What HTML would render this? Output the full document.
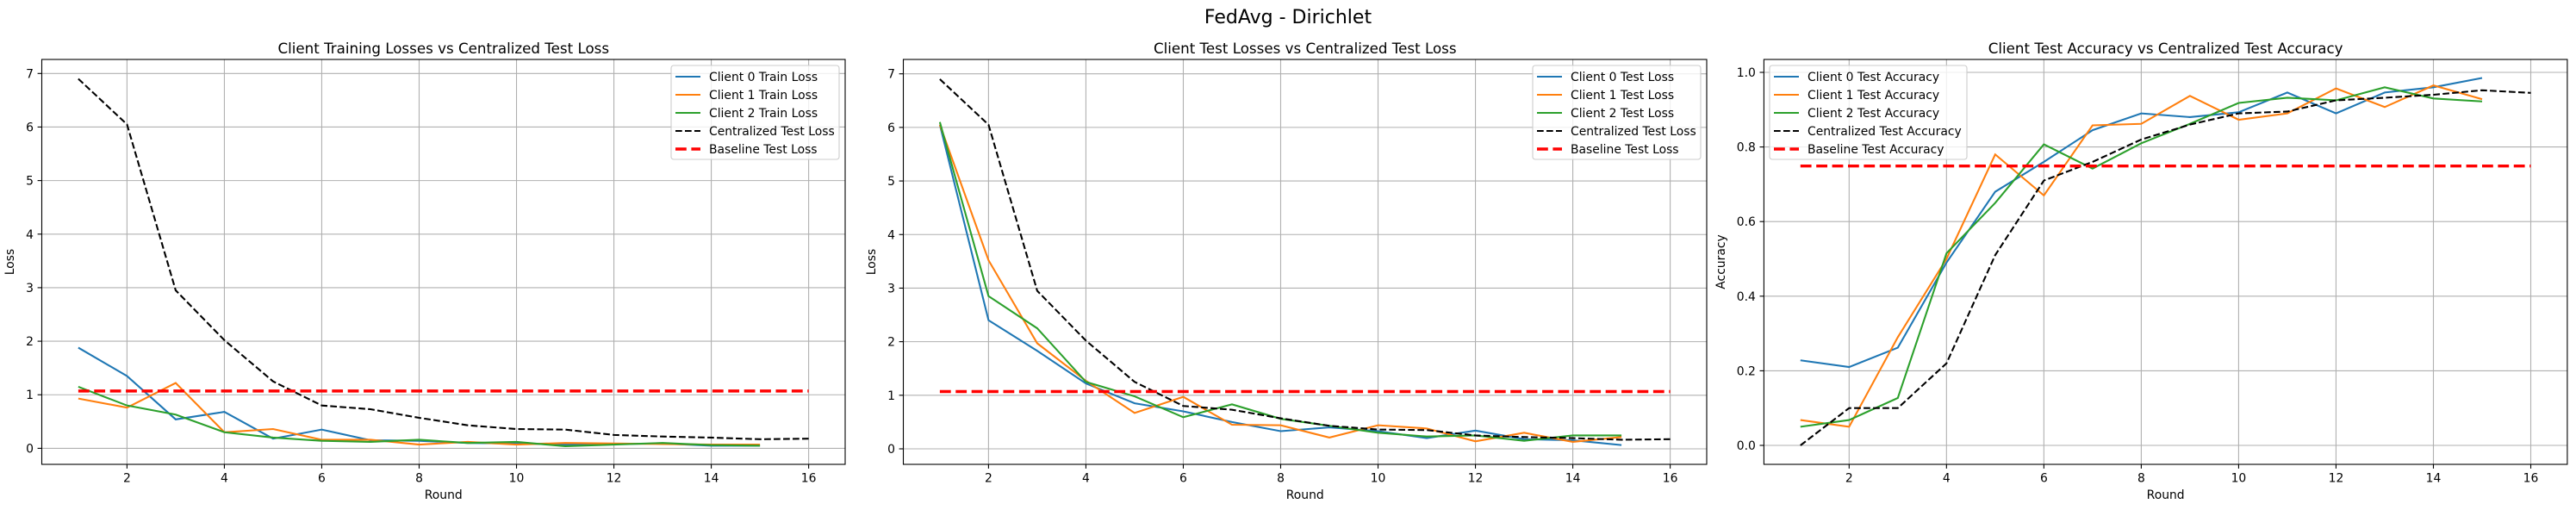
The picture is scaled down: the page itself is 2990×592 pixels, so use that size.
<!DOCTYPE html>
<html><head><meta charset="utf-8">
<style>
html,body{margin:0;padding:0;background:#fff;}
svg{display:block;font-family:"DejaVu Sans","Liberation Sans",sans-serif;}
</style></head>
<body>
<svg id="fig" width="2990" height="592" viewBox="0 0 2990 592" xmlns="http://www.w3.org/2000/svg">
<rect width="2990" height="592" fill="#fff"/>
<text x="1495" y="27" font-size="22" text-anchor="middle">FedAvg - Dirichlet</text>
</svg>
<script>
const rounds15 = [1,2,3,4,5,6,7,8,9,10,11,12,13,14,15];
const rounds16 = [1,2,3,4,5,6,7,8,9,10,11,12,13,14,15,16];
const centralLoss = [6.9,6.05,2.95,2.02,1.25,0.8,0.73,0.57,0.43,0.36,0.35,0.25,0.22,0.2,0.17,0.18];
const baselineLoss = 1.07;
const c0Train = [1.88,1.35,0.54,0.68,0.18,0.35,0.15,0.14,0.1,0.09,0.07,0.08,0.09,0.05,0.05];
const c1Train = [0.93,0.76,1.22,0.3,0.36,0.16,0.16,0.07,0.12,0.07,0.1,0.09,0.08,0.07,0.07];
const c2Train = [1.15,0.8,0.63,0.3,0.2,0.14,0.12,0.16,0.1,0.12,0.04,0.07,0.1,0.06,0.05];
const c0TestLoss = [6.05,2.4,1.83,1.22,0.85,0.7,0.5,0.33,0.4,0.33,0.2,0.34,0.18,0.16,0.07];
const c1TestLoss = [6.05,3.52,1.97,1.27,0.67,0.97,0.45,0.44,0.21,0.44,0.38,0.14,0.3,0.13,0.22];
const c2TestLoss = [6.1,2.85,2.25,1.25,0.98,0.59,0.83,0.56,0.43,0.3,0.23,0.25,0.15,0.25,0.25];
const c0Acc = [0.228,0.21,0.262,0.49,0.68,0.76,0.845,0.89,0.88,0.893,0.946,0.89,0.946,0.96,0.985];
const c1Acc = [0.068,0.05,0.29,0.5,0.78,0.67,0.858,0.862,0.937,0.873,0.89,0.957,0.907,0.965,0.928];
const c2Acc = [0.05,0.068,0.127,0.515,0.65,0.807,0.742,0.81,0.862,0.918,0.932,0.925,0.96,0.93,0.922];
const centralAcc = [0.0,0.1,0.1,0.22,0.51,0.71,0.76,0.82,0.86,0.89,0.895,0.925,0.932,0.94,0.952,0.945];
const baselineAcc = 0.749;
const xTicks = [2,4,6,8,10,12,14,16];
const lossTicks = [0,1,2,3,4,5,6,7];
const accTicks = [0,0.2,0.4,0.6,0.8,1.0];
const accTickLabels = ["0.0","0.2","0.4","0.6","0.8","1.0"];

const NS="http://www.w3.org/2000/svg";
const svg=document.getElementById('fig');
function mk(tag,attrs,parent){const e=document.createElementNS(NS,tag);for(const k in attrs)e.setAttribute(k,attrs[k]);(parent||svg).appendChild(e);return e;}

function panel(cfg){
  const g=mk('g',{});
  
  
  const L=cfg.left,R=cfg.left+932.5,T=69,B=539;
  const xs=v=>L+(v-0.25)/16.5*(R-L);
  const ys=v=>cfg.y0+(v-cfg.ymin0)*(cfg.y1-cfg.y0)/(cfg.ymax1-cfg.ymin0);
  cfg.yticks.forEach((t,i)=>{
    const y=ys(t);
    const gl=mk('line',{x1:L,x2:R,y1:y,y2:y,stroke:'#b0b0b0','stroke-width':1.1},g);
    
    
    mk('line',{x1:L-4.9,x2:L,y1:y,y2:y,stroke:'#000','stroke-width':1.1},g);
    const tx=mk('text',{x:L-9.5,y:y+5,'font-size':13.9,'text-anchor':'end'},g);
    tx.textContent=cfg.ylabels[i];
    
    
  });
  xTicks.forEach(t=>{
    const x=xs(t);
    const gl=mk('line',{x1:x,x2:x,y1:T,y2:B,stroke:'#b0b0b0','stroke-width':1.1},g);
    
    
    mk('line',{x1:x,x2:x,y1:B,y2:B+4.9,stroke:'#000','stroke-width':1.1},g);
    const tx=mk('text',{x:x,y:B+20.5,'font-size':13.9,'text-anchor':'middle'},g);
    tx.textContent=t;
    
    
  });
  const clip='clip'+Math.round(cfg.left);
  const cp=mk('clipPath',{id:clip},g);mk('rect',{x:L,y:T,width:R-L,height:B-T},cp);
  cfg.series.forEach(s=>{
    let pts;
    if(s.const!==undefined) pts=[[xs(1),ys(s.const)],[xs(16),ys(s.const)]];
    else pts=s.data.map((v,i)=>[xs(s.x[i]),ys(v)]);
    const a={points:pts.map(p=>p.join(',')).join(' '),fill:'none',stroke:s.color,'stroke-width':s.w,'clip-path':'url(#'+clip+')'};
    if(s.dash)a['stroke-dasharray']=s.dash;
    const pl=mk('polyline',a,g);
    
    
  });
  const fr=mk('rect',{x:L,y:T,width:R-L,height:B-T,fill:'none',stroke:'#000','stroke-width':1.1},g);
  
  
  const tt=mk('text',{x:(L+R)/2,y:62,'font-size':16.7,'text-anchor':'middle'},g);
  tt.textContent=cfg.title;
  
  
  const xl=mk('text',{x:(L+R)/2,y:579,'font-size':13.9,'text-anchor':'middle'},g);
  xl.textContent='Round';
  
  
  const yl=mk('text',{x:0,y:0,'font-size':13.9,'text-anchor':'middle',transform:'translate('+cfg.ylx+','+((T+B)/2)+') rotate(-90)'},g);
  yl.textContent=cfg.ylabel;
  
  
  const lg=mk('g',{},g);
  
  
  const lx=cfg.legX,lw=cfg.legW;
  mk('rect',{x:lx,y:76,width:lw,height:109,rx:3,fill:'#fff','fill-opacity':0.8,stroke:'#ccc','stroke-width':1.1},lg);
  cfg.series.forEach((s,i)=>{
    const y=89+i*21;
    const a={x1:lx+5,x2:lx+34,y1:y,y2:y,stroke:s.color,'stroke-width':s.w};
    if(s.dash)a['stroke-dasharray']=s.dash;
    mk('line',a,lg);
    const t=mk('text',{x:lx+44,y:y+5,'font-size':13.9},lg);
    t.textContent=s.label;
    
    
  });
}
const BL='#1f77b4',OR='#ff7f0e',GR='#2ca02c';
const bd='7.7,3.3', rd='12.8,5.6';
const LW=2.08, RW=3.47;
panel({name:'train-loss-panel',left:48.5,title:'Client Training Losses vs Centralized Test Loss',ylabel:'Loss',ylx:16,
  y0:520.4,y1:85.3,ymin0:0,ymax1:7,yticks:lossTicks,ylabels:lossTicks.map(String),legX:779,legW:195,
  series:[{key:'client0-train-line',label:'Client 0 Train Loss',x:rounds15,data:c0Train,color:BL,w:LW},
    {key:'client1-train-line',label:'Client 1 Train Loss',x:rounds15,data:c1Train,color:OR,w:LW},
    {key:'client2-train-line',label:'Client 2 Train Loss',x:rounds15,data:c2Train,color:GR,w:LW},
    {key:'centralized-loss-line',label:'Centralized Test Loss',x:rounds16,data:centralLoss,color:'#000',w:LW,dash:bd},
    {key:'baseline-loss-line',label:'Baseline Test Loss',const:baselineLoss,color:'#ff0000',w:RW,dash:rd}]});
panel({name:'test-loss-panel',left:1048.5,title:'Client Test Losses vs Centralized Test Loss',ylabel:'Loss',ylx:1016,
  y0:521,y1:85.7,ymin0:0,ymax1:7,yticks:lossTicks,ylabels:lossTicks.map(String),legX:1779,legW:195,
  series:[{key:'client0-testloss-line',label:'Client 0 Test Loss',x:rounds15,data:c0TestLoss,color:BL,w:LW},
    {key:'client1-testloss-line',label:'Client 1 Test Loss',x:rounds15,data:c1TestLoss,color:OR,w:LW},
    {key:'client2-testloss-line',label:'Client 2 Test Loss',x:rounds15,data:c2TestLoss,color:GR,w:LW},
    {key:'centralized-loss-line',label:'Centralized Test Loss',x:rounds16,data:centralLoss,color:'#000',w:LW,dash:bd},
    {key:'baseline-loss-line',label:'Baseline Test Loss',const:baselineLoss,color:'#ff0000',w:RW,dash:rd}]});
panel({name:'accuracy-panel',left:2047.4,title:'Client Test Accuracy vs Centralized Test Accuracy',ylabel:'Accuracy',ylx:2002,
  y0:517,y1:84,ymin0:0,ymax1:1,yticks:accTicks,ylabels:accTickLabels,legX:2054,legW:229,
  series:[{key:'client0-acc-line',label:'Client 0 Test Accuracy',x:rounds15,data:c0Acc,color:BL,w:LW},
    {key:'client1-acc-line',label:'Client 1 Test Accuracy',x:rounds15,data:c1Acc,color:OR,w:LW},
    {key:'client2-acc-line',label:'Client 2 Test Accuracy',x:rounds15,data:c2Acc,color:GR,w:LW},
    {key:'centralized-acc-line',label:'Centralized Test Accuracy',x:rounds16,data:centralAcc,color:'#000',w:LW,dash:bd},
    {key:'baseline-acc-line',label:'Baseline Test Accuracy',const:baselineAcc,color:'#ff0000',w:RW,dash:rd}]});
</script>
</body></html>
